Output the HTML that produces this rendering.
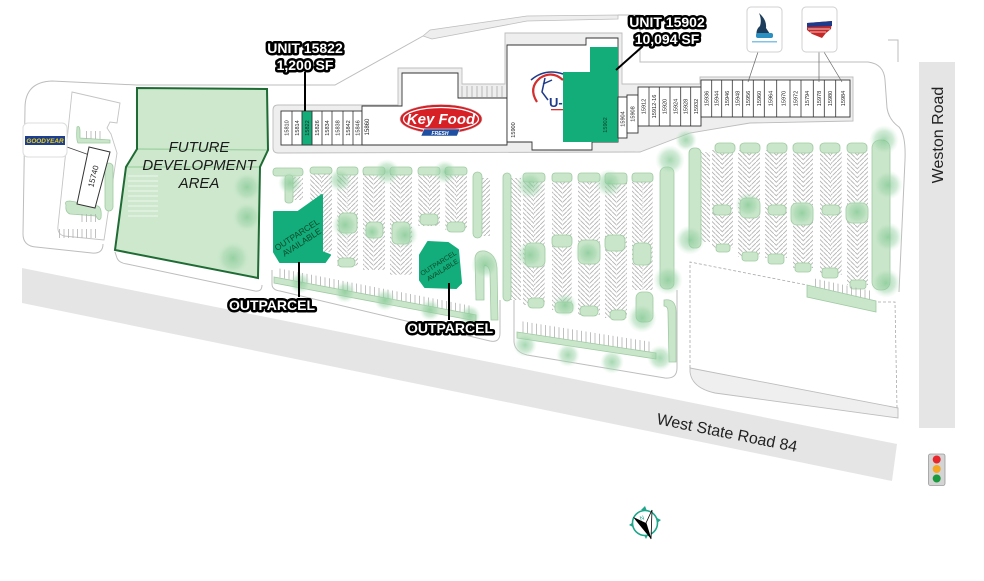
<!DOCTYPE html>
<html><head><meta charset="utf-8"><style>
html,body{margin:0;padding:0;background:#fff;}
svg{display:block;}
.u{font-size:5.6px;fill:#222;text-anchor:middle;}
.lbl{font-weight:bold;font-size:14px;fill:#fff;stroke:#000;stroke-width:5;stroke-linejoin:round;paint-order:stroke;text-anchor:middle;}
.isl{fill:#cae6ca;stroke:#9fcaa3;stroke-width:.8;}
.curb{fill:none;stroke:#bdbdbd;stroke-width:1;}
</style></head><body>
<svg width="984" height="581" viewBox="0 0 984 581" xmlns="http://www.w3.org/2000/svg" font-family="'Liberation Sans', Arial, sans-serif">
<defs>
<pattern id="pa" width="4.5" height="4.5" patternUnits="userSpaceOnUse"><path d="M0,0 L4.5,4.5" stroke="#b2b2b2" stroke-width="0.85"/></pattern>
<pattern id="pb" width="4.5" height="4.5" patternUnits="userSpaceOnUse"><path d="M4.5,0 L0,4.5" stroke="#b2b2b2" stroke-width="0.85"/></pattern>
<pattern id="tk" width="4.5" height="20" patternUnits="userSpaceOnUse"><line x1="1" y1="0" x2="1" y2="20" stroke="#b0b0b0" stroke-width="0.8"/></pattern>
<pattern id="hz" width="20" height="5" patternUnits="userSpaceOnUse"><line x1="0" y1="1" x2="20" y2="1" stroke="#eef7ee" stroke-width="1"/></pattern>
<radialGradient id="tr"><stop offset="0" stop-color="#7fc690" stop-opacity="0.7"/><stop offset="0.6" stop-color="#a2d6ad" stop-opacity="0.5"/><stop offset="1" stop-color="#cdebd3" stop-opacity="0"/></radialGradient>
</defs>

<!-- roads -->
<polygon points="22,268 897,444 892,481 22,303" fill="#e5e5e5"/>
<rect x="919" y="62" width="36" height="366" fill="#e5e5e5"/>
<text transform="translate(726,438) rotate(11.4)" text-anchor="middle" font-size="16" fill="#222">West State Road 84</text>
<text transform="translate(943,135) rotate(-90)" text-anchor="middle" font-size="16" fill="#222">Weston Road</text>

<!-- service drive lines -->
<path class="curb" d="M137,85 L335,85 L423,36"/>
<polygon points="423,36 430,30 527,16 618,15 618,19 527,21 432,39" fill="#eeeeee" stroke="#bdbdbd" stroke-width=".8"/>
<path class="curb" d="M618,15 L640,15 L640,62 L868,62 Q884,64 885,80 L887,108 Q889,120 899,127 Q906,135 905,160 L899,292"/>
<path class="curb" d="M888,40 L898,40 L898,62"/>

<!-- Goodyear lot -->
<path class="curb" d="M137,85 L52,81 Q25,82 25,108 L23,234 Q23,246 36,247 L92,253 Q103,254 103,244"/>
<path d="M72,92 L120,103 L117,123 L110,122 L107,128 L111,134 L117,153 L104,240 L64,236 Q57,234 58,226 L66,150 Z" fill="#fff" stroke="#c4c4c4" stroke-width=".9"/>
<rect x="58" y="229" width="38" height="9" fill="url(#tk)"/>
<path class="isl" d="M77,127 Q80,125 80,132 L80,138 L110,140 L110,143 L78,143 Q76,140 77,127 Z"/>
<rect x="84" y="131" width="18" height="8" fill="url(#tk)"/>
<rect class="isl" x="105" y="163" width="8" height="48" rx="4"/>
<path class="isl" d="M66,205 Q64,201 70,201 L98,206 Q102,208 101,218 Q99,222 96,216 L70,214 Q65,212 66,205 Z"/>
<rect x="80" y="214" width="18" height="8" fill="url(#tk)"/>
<line x1="67" y1="147" x2="95" y2="157" stroke="#444" stroke-width=".8"/>
<polygon points="89,147 110,152 95,208 77,204" fill="#fff" stroke="#333" stroke-width="1"/>
<text transform="translate(96,177) rotate(-76)" text-anchor="middle" font-size="8" fill="#222">15740</text>
<rect x="23" y="123" width="44" height="34" rx="5" fill="#fff" stroke="#dcdcdc"/>
<rect x="25" y="136" width="40" height="9" fill="#1c3f94"/>
<text x="45" y="143.2" text-anchor="middle" font-size="6.4" font-weight="bold" font-style="italic" fill="#f3cf00">GOODYEAR</text>

<!-- Future development -->
<polygon points="137,88 267,89 268,150 260,167 258,278 115,250 126,167 137,149" fill="#cde8cc"/>
<rect x="128" y="172" width="30" height="45" fill="url(#hz)"/>
<circle cx="247" cy="187" r="15" fill="url(#tr)"/>
<circle cx="247" cy="217" r="15" fill="url(#tr)"/>
<circle cx="233" cy="258" r="17" fill="url(#tr)"/>
<line x1="137" y1="149" x2="268" y2="150" stroke="#9dd0a1" stroke-width="1.2"/>
<line x1="126" y1="167" x2="260" y2="167" stroke="#9dd0a1" stroke-width="1.2"/>
<polygon points="137,88 267,89 268,150 260,167 258,278 115,250 126,167 137,149" fill="none" stroke="#1f6b34" stroke-width="2"/>
<g font-size="15" font-style="italic" fill="#1a1a1a" text-anchor="middle">
<text x="199" y="152">FUTURE</text>
<text x="199" y="170">DEVELOPMENT</text>
<text x="199" y="188">AREA</text>
</g>
<path class="curb" d="M115,252 L117,258 Q119,263 127,264 L255,291 Q262,292 262,285"/>

<!-- sidewalk around buildings -->
<path d="M273,110 Q273,105 278,105 L398,105 L398,68 L462,68 L462,84 L505,84 L505,33 L622,33 L622,84 L700,84 L700,77 L853,77 L853,121 L750,123 L690,133 L640,152 L278,153 Q273,153 273,148 Z" fill="#eeeeee" stroke="#bdbdbd" stroke-width=".9"/>

<!-- left unit strip -->
<rect x="281" y="111" width="81" height="34" fill="#fff" stroke="#333" stroke-width=".9"/>
<rect x="302" y="111" width="10" height="34" fill="#13ad7a" stroke="#333" stroke-width=".9"/>
<g stroke="#333" stroke-width=".8">
<line x1="292" y1="111" x2="292" y2="145"/><line x1="322" y1="111" x2="322" y2="145"/><line x1="332" y1="111" x2="332" y2="145"/><line x1="343" y1="111" x2="343" y2="145"/><line x1="353" y1="111" x2="353" y2="145"/>
</g>
<g class="u">
<text transform="translate(288.5,128) rotate(-90)">15810</text>
<text transform="translate(299,128) rotate(-90)">15814</text>
<text transform="translate(309,128) rotate(-90)">15822</text>
<text transform="translate(319,128) rotate(-90)">15826</text>
<text transform="translate(329,128) rotate(-90)">15834</text>
<text transform="translate(339.5,128) rotate(-90)">15838</text>
<text transform="translate(350,128) rotate(-90)">15842</text>
<text transform="translate(359.5,128) rotate(-90)">15846</text>
</g>

<!-- Key Food block -->
<polygon points="362,106 402,106 402,73 458,73 458,98 507,98 507,145 362,145" fill="#fff" stroke="#333" stroke-width=".9"/>
<g stroke="#aaa" stroke-width=".8">
<line x1="462" y1="86" x2="462" y2="97"/><line x1="467" y1="86" x2="467" y2="97"/><line x1="472" y1="86" x2="472" y2="97"/><line x1="477" y1="86" x2="477" y2="97"/><line x1="482" y1="86" x2="482" y2="97"/><line x1="487" y1="86" x2="487" y2="97"/><line x1="492" y1="86" x2="492" y2="97"/><line x1="497" y1="86" x2="497" y2="97"/><line x1="502" y1="86" x2="502" y2="97"/>
</g>
<text class="u" transform="translate(369,127) rotate(-90)" style="font-size:6px">15860</text>
<g transform="translate(441,119)">
<ellipse rx="41" ry="14.5" fill="#d71f26" stroke="#c8c8c8" stroke-width=".6"/>
<ellipse rx="37.5" ry="11.5" fill="none" stroke="#fff" stroke-width="1.3"/>
<text x="0" y="5" text-anchor="middle" font-size="15" font-weight="bold" font-style="italic" fill="#fff">Key Food</text>
<path d="M-17,10 L19,10 L16,17 L-20,17 Z" fill="#1f4fa0" stroke="#fff" stroke-width=".5"/>
<text x="-1" y="15.8" text-anchor="middle" font-size="5" font-weight="bold" font-style="italic" fill="#fff">FRESH</text>
</g>

<!-- Big building -->
<polygon points="507,45 586,45 586,38 618,38 618,142 592,142 592,150 532,150 532,142 507,142" fill="#fff" stroke="#333" stroke-width=".9"/>
<polygon points="590,47 618,47 618,142 563,142 563,72 590,72" fill="#13ad7a"/>
<text class="u" transform="translate(515,130) rotate(-90)">15900</text>
<text class="u" transform="translate(607,125) rotate(-90)" style="fill:#0b3d25">15902</text>
<!-- Aaron's logo -->
<path d="M531,80 Q545,68 563,74" fill="none" stroke="#1e3a8a" stroke-width="1.5"/>
<path d="M537,102 Q528,88 540,78 Q552,70 563,80" fill="none" stroke="#d32f2f" stroke-width="2.2"/>
<path d="M545,78 L542,92 L548,100 M543,84 L552,80" fill="none" stroke="#1e3a8a" stroke-width="1.5"/>
<text x="549" y="107" font-size="13" font-weight="bold" fill="#1e3a8a">U-</text>
<rect x="551" y="109" width="12" height="1.3" fill="#d32f2f"/>

<!-- right units -->
<rect x="618" y="97" width="9" height="41" fill="#fff" stroke="#333" stroke-width=".9"/>
<rect x="627" y="95" width="11" height="38" fill="#fff" stroke="#333" stroke-width=".9"/>
<rect x="638" y="87" width="63" height="39" fill="#fff" stroke="#333" stroke-width=".9"/>
<g stroke="#333" stroke-width=".8">
<line x1="649" y1="87" x2="649" y2="126"/><line x1="659.3" y1="87" x2="659.3" y2="126"/><line x1="670" y1="87" x2="670" y2="126"/><line x1="680.7" y1="87" x2="680.7" y2="126"/><line x1="690.7" y1="87" x2="690.7" y2="126"/>
</g>
<rect x="701" y="80" width="149" height="37" fill="#fff" stroke="#333" stroke-width=".9"/>
<g stroke="#333" stroke-width=".8">
<line x1="711.7" y1="80" x2="711.7" y2="117"/><line x1="721.7" y1="80" x2="721.7" y2="117"/><line x1="732.3" y1="80" x2="732.3" y2="117"/><line x1="742.7" y1="80" x2="742.7" y2="117"/><line x1="753.3" y1="80" x2="753.3" y2="117"/><line x1="764.3" y1="80" x2="764.3" y2="117"/><line x1="776.7" y1="80" x2="776.7" y2="117"/><line x1="790" y1="80" x2="790" y2="117"/><line x1="801" y1="80" x2="801" y2="117"/><line x1="813.3" y1="80" x2="813.3" y2="117"/><line x1="824.3" y1="80" x2="824.3" y2="117"/><line x1="835.7" y1="80" x2="835.7" y2="117"/>
</g>
<g class="u">
<text transform="translate(624.5,119) rotate(-90)">15904</text>
<text transform="translate(634.5,114) rotate(-90)">15908</text>
<text transform="translate(645.3,106.5) rotate(-90)">15912</text>
<text transform="translate(656.2,106.5) rotate(-90)">15912-16</text>
<text transform="translate(666.7,106.5) rotate(-90)">15920</text>
<text transform="translate(677.3,106.5) rotate(-90)">15924</text>
<text transform="translate(687.7,106.5) rotate(-90)">15928</text>
<text transform="translate(697.9,106.5) rotate(-90)">15932</text>
<text transform="translate(708.3,98.5) rotate(-90)">15936</text>
<text transform="translate(718.7,98.5) rotate(-90)">15944</text>
<text transform="translate(729,98.5) rotate(-90)">15946</text>
<text transform="translate(739.5,98.5) rotate(-90)">15948</text>
<text transform="translate(750,98.5) rotate(-90)">15956</text>
<text transform="translate(760.8,98.5) rotate(-90)">15960</text>
<text transform="translate(772.5,98.5) rotate(-90)">15964</text>
<text transform="translate(785.3,98.5) rotate(-90)">15970</text>
<text transform="translate(797.5,98.5) rotate(-90)">15972</text>
<text transform="translate(809.2,98.5) rotate(-90)">15794</text>
<text transform="translate(820.8,98.5) rotate(-90)">15978</text>
<text transform="translate(832,98.5) rotate(-90)">15980</text>
<text transform="translate(844.9,98.5) rotate(-90)">15984</text>
</g>

<!-- top right logos -->
<g stroke="#666" stroke-width=".7">
<line x1="758" y1="52" x2="748" y2="82"/><line x1="819" y1="52" x2="819" y2="82"/><line x1="824" y1="52" x2="842" y2="82"/>
</g>
<rect x="747" y="7" width="35" height="45" rx="4" fill="#fff" stroke="#d0d0d0"/>
<path d="M759,13 Q767,20 766,28 L772,37 L757,37 Q755,30 760,26 Q762,20 759,13 Z" fill="#1d3d5c"/>
<rect x="756" y="33" width="17" height="5" rx="2" fill="#2b8fc0"/>
<rect x="752" y="41" width="25" height="1.5" fill="#7fc3e6"/>
<rect x="802" y="7" width="35" height="45" rx="4" fill="#fff" stroke="#d0d0d0"/>
<path d="M807,23 L832,21 L831,29 L826,33 L822,38 L812,34 L807,30 Z" fill="#c62828"/>
<path d="M807,23 L832,21 L832,26 L807,27 Z" fill="#1e3a8a"/>
<g stroke="#fff" stroke-width=".7"><line x1="808" y1="29" x2="830" y2="29"/><line x1="810" y1="32" x2="826" y2="32"/></g>

<!-- middle lot curbs -->
<path class="curb" d="M272,270 L272,284 Q272,290 280,291 L490,341 Q500,343 500,333 L500,300"/>
<!-- lot 3 curb -->
<path class="curb" d="M514,300 L514,342 Q515,352 527,355 L665,378 Q677,379 677,368 L677,290"/>
<!-- lot 4 -->
<path d="M690,368 L898,408 L898,418 L715,393 Q692,388 690,372 Z" fill="#efefef" stroke="#bdbdbd" stroke-width=".9"/>
<g stroke="#a9a9a9" stroke-width=".8" stroke-dasharray="3,2" fill="none">
<path d="M690,368 L690,262 L807,285"/><path d="M878,302 L895,302 L897,408"/>
</g>

<!-- hatch columns -->
<g>
<rect x="293" y="177" width="10" height="23" fill="url(#pb)"/>
<rect x="310" y="172" width="11" height="80" fill="url(#pa)"/><rect x="321" y="172" width="11" height="80" fill="url(#pb)"/>
<rect x="337" y="172" width="10.5" height="94" fill="url(#pa)"/><rect x="347.5" y="172" width="10.5" height="94" fill="url(#pb)"/>
<rect x="363" y="172" width="11" height="98" fill="url(#pa)"/><rect x="374" y="172" width="11" height="98" fill="url(#pb)"/>
<rect x="390" y="172" width="11" height="103" fill="url(#pa)"/><rect x="401" y="172" width="11" height="103" fill="url(#pb)"/>
<rect x="418" y="172" width="11" height="54" fill="url(#pa)"/><rect x="429" y="172" width="11" height="54" fill="url(#pb)"/>
<rect x="445" y="172" width="11" height="58" fill="url(#pa)"/><rect x="456" y="172" width="11" height="58" fill="url(#pb)"/>
<rect x="480" y="178" width="10" height="58" fill="url(#pb)"/>
<rect x="510" y="178" width="11" height="122" fill="url(#pa)"/>
<rect x="523" y="180" width="11" height="125" fill="url(#pa)"/><rect x="534" y="180" width="11" height="125" fill="url(#pb)"/>
<rect x="552" y="180" width="10" height="130" fill="url(#pa)"/><rect x="562" y="180" width="10" height="130" fill="url(#pb)"/>
<rect x="578" y="180" width="11" height="135" fill="url(#pa)"/><rect x="589" y="180" width="11" height="135" fill="url(#pb)"/>
<rect x="605" y="180" width="11" height="138" fill="url(#pa)"/><rect x="616" y="180" width="11" height="138" fill="url(#pb)"/>
<rect x="632" y="180" width="10.5" height="110" fill="url(#pa)"/><rect x="642.5" y="180" width="10.5" height="110" fill="url(#pb)"/>
<rect x="697" y="152" width="13" height="90" fill="url(#pa)"/>
<rect x="712" y="150" width="10.5" height="98" fill="url(#pa)"/><rect x="722.5" y="150" width="10.5" height="98" fill="url(#pb)"/>
<rect x="738" y="150" width="11" height="107" fill="url(#pa)"/><rect x="749" y="150" width="11" height="107" fill="url(#pb)"/>
<rect x="765" y="150" width="11" height="108" fill="url(#pa)"/><rect x="776" y="150" width="11" height="108" fill="url(#pb)"/>
<rect x="793" y="150" width="10" height="118" fill="url(#pa)"/><rect x="803" y="150" width="10" height="118" fill="url(#pb)"/>
<rect x="820" y="150" width="11" height="125" fill="url(#pa)"/><rect x="831" y="150" width="11" height="125" fill="url(#pb)"/>
<rect x="847" y="150" width="10.5" height="135" fill="url(#pa)"/><rect x="857.5" y="150" width="10.5" height="135" fill="url(#pb)"/>
</g>

<!-- green islands -->
<g>
<rect class="isl" x="273" y="168" width="30" height="8" rx="3"/>
<rect class="isl" x="285" y="175" width="8" height="28" rx="3"/>
<rect class="isl" x="310" y="167" width="22" height="7" rx="3"/>
<rect class="isl" x="337" y="167" width="21" height="8" rx="3"/>
<rect class="isl" x="339" y="213" width="18" height="20" rx="5"/>
<rect class="isl" x="338" y="258" width="17" height="9" rx="4"/>
<rect class="isl" x="363" y="167" width="22" height="8" rx="3"/>
<rect class="isl" x="366" y="222" width="17" height="16" rx="5"/>
<rect class="isl" x="390" y="167" width="22" height="8" rx="3"/>
<rect class="isl" x="392" y="222" width="18" height="22" rx="5"/>
<rect class="isl" x="418" y="167" width="22" height="8" rx="3"/>
<rect class="isl" x="420" y="214" width="18" height="11" rx="4"/>
<rect class="isl" x="445" y="167" width="22" height="8" rx="3"/>
<rect class="isl" x="447" y="222" width="18" height="10" rx="4"/>
<rect class="isl" x="473" y="172" width="9" height="66" rx="4.5"/>
<path class="isl" d="M475,258 Q476,250 485,251 Q496,254 497,268 L498,320 L491,320 L490,272 Q488,264 484,266 L484,300 L476,300 Z"/>
<rect class="isl" x="503" y="173" width="8" height="128" rx="4"/>
<rect class="isl" x="523" y="173" width="22" height="9" rx="3"/>
<rect class="isl" x="552" y="173" width="20" height="9" rx="3"/>
<rect class="isl" x="578" y="173" width="22" height="9" rx="3"/>
<rect class="isl" x="605" y="173" width="22" height="11" rx="3"/>
<rect class="isl" x="632" y="173" width="21" height="9" rx="3"/>
<rect class="isl" x="525" y="243" width="20" height="24" rx="6"/>
<rect class="isl" x="552" y="235" width="20" height="12" rx="4"/>
<rect class="isl" x="578" y="240" width="22" height="24" rx="6"/>
<rect class="isl" x="605" y="235" width="20" height="16" rx="5"/>
<rect class="isl" x="633" y="243" width="18" height="22" rx="5"/>
<rect class="isl" x="528" y="298" width="16" height="10" rx="4"/>
<rect class="isl" x="555" y="302" width="18" height="11" rx="4"/>
<rect class="isl" x="580" y="306" width="18" height="10" rx="4"/>
<rect class="isl" x="610" y="310" width="16" height="10" rx="4"/>
<rect class="isl" x="636" y="292" width="17" height="30" rx="6"/>
<rect class="isl" x="660" y="167" width="14" height="122" rx="6"/>
<path class="isl" d="M664,300 Q676,298 676,312 L676,362 L669,362 L668,312 Q668,306 664,306 Z"/>
<rect class="isl" x="689" y="148" width="12" height="100" rx="5"/>
<rect class="isl" x="715" y="143" width="20" height="10" rx="4"/>
<rect class="isl" x="740" y="143" width="20" height="10" rx="4"/>
<rect class="isl" x="767" y="143" width="20" height="10" rx="4"/>
<rect class="isl" x="793" y="143" width="20" height="10" rx="4"/>
<rect class="isl" x="820" y="143" width="20" height="10" rx="4"/>
<rect class="isl" x="847" y="143" width="20" height="10" rx="4"/>
<rect class="isl" x="713" y="205" width="18" height="10" rx="4"/>
<rect class="isl" x="740" y="198" width="20" height="20" rx="6"/>
<rect class="isl" x="768" y="205" width="18" height="10" rx="4"/>
<rect class="isl" x="791" y="203" width="22" height="22" rx="6"/>
<rect class="isl" x="822" y="205" width="18" height="10" rx="4"/>
<rect class="isl" x="846" y="203" width="22" height="20" rx="6"/>
<rect class="isl" x="716" y="244" width="14" height="8" rx="3"/>
<rect class="isl" x="742" y="252" width="16" height="9" rx="3"/>
<rect class="isl" x="768" y="254" width="16" height="10" rx="3"/>
<rect class="isl" x="795" y="263" width="16" height="9" rx="3"/>
<rect class="isl" x="822" y="268" width="16" height="10" rx="3"/>
<rect class="isl" x="850" y="280" width="16" height="9" rx="3"/>
<rect class="isl" x="872" y="140" width="18" height="150" rx="8"/>
</g>

<!-- bottom strips with stall ticks -->
<polygon points="277,268 472,306 472,315 277,277" fill="url(#tk)"/>
<polygon class="isl" points="274,277 476,315 476,321 274,283"/>
<polygon points="520,321 652,342 652,353 520,332" fill="url(#tk)"/>
<polygon class="isl" points="517,332 656,353 656,359 517,338"/>
<polygon points="812,278 872,291 872,302 812,290" fill="url(#tk)"/>
<polygon class="isl" points="807,285 876,301 876,312 807,297"/>

<!-- trees -->
<g fill="url(#tr)">
<circle cx="290" cy="183" r="12"/><circle cx="340" cy="180" r="12"/><circle cx="387" cy="172" r="13"/><circle cx="445" cy="172" r="12"/>
<circle cx="345" cy="225" r="13"/><circle cx="405" cy="235" r="13"/><circle cx="372" cy="232" r="9"/>
<circle cx="300" cy="283" r="11"/><circle cx="345" cy="292" r="11"/><circle cx="385" cy="300" r="11"/><circle cx="430" cy="310" r="11"/><circle cx="470" cy="316" r="11"/>
<circle cx="485" cy="265" r="14"/>
<circle cx="530" cy="185" r="14"/><circle cx="609" cy="183" r="14"/><circle cx="670" cy="160" r="15"/>
<circle cx="530" cy="255" r="14"/><circle cx="588" cy="253" r="13"/><circle cx="668" cy="280" r="15"/><circle cx="642" cy="318" r="15"/><circle cx="565" cy="305" r="12"/>
<circle cx="525" cy="345" r="12"/><circle cx="568" cy="355" r="12"/><circle cx="612" cy="362" r="12"/><circle cx="660" cy="358" r="13"/>
<circle cx="690" cy="240" r="15"/><circle cx="686" cy="140" r="11"/><circle cx="748" cy="205" r="13"/><circle cx="802" cy="213" r="13"/><circle cx="857" cy="212" r="13"/>
<circle cx="884" cy="140" r="15"/><circle cx="888" cy="185" r="15"/><circle cx="888" cy="237" r="15"/><circle cx="886" cy="283" r="15"/>
</g>

<!-- outparcels -->
<polygon points="274,212 298,212 322,195 322,252 330,255 325,262 280,262 274,252" fill="#12ad7a" stroke="#12ad7a" stroke-width="2" stroke-linejoin="round"/>
<g transform="translate(299,238) rotate(-33)" font-size="8.5" fill="#0b4a2b" text-anchor="middle">
<text x="0" y="-1">OUTPARCEL</text><text x="0" y="8">AVAILABLE</text>
</g>
<polygon points="428,242 448,243 458,250 461,283 456,288 425,287 420,280 420,255" fill="#12ad7a" stroke="#12ad7a" stroke-width="2" stroke-linejoin="round"/>
<g transform="translate(440,266) rotate(-32)" font-size="6.8" fill="#0b4a2b" text-anchor="middle">
<text x="0" y="-1">OUTPARCEL</text><text x="0" y="7">AVAILABLE</text>
</g>

<!-- leaders -->
<g stroke="#000" stroke-width="2">
<line x1="305" y1="72" x2="305" y2="111"/>
<line x1="643" y1="46" x2="616" y2="70"/>
<line x1="299" y1="262" x2="299" y2="297"/>
<line x1="449" y1="283" x2="449" y2="320"/>
</g>

<!-- labels -->
<text class="lbl" x="305" y="53">UNIT 15822</text>
<text class="lbl" x="305" y="70">1,200 SF</text>
<text class="lbl" x="667" y="27">UNIT 15902</text>
<text class="lbl" x="667" y="44">10,094 SF</text>
<text class="lbl" x="272" y="310">OUTPARCEL</text>
<text class="lbl" x="450" y="333">OUTPARCEL</text>

<!-- traffic light -->
<rect x="928.5" y="454" width="16.5" height="31.5" rx="2" fill="#d4d4d4" stroke="#9a9a9a" stroke-width=".8"/>
<circle cx="936.7" cy="459.5" r="4" fill="#e8262b"/>
<circle cx="936.7" cy="469" r="4" fill="#f5a623"/>
<circle cx="936.7" cy="478.5" r="4" fill="#1a9a3c"/>

<!-- compass -->
<g transform="translate(645,523)">
<circle r="12.5" fill="none" stroke="#1ea58a" stroke-width="1.6"/>
<g fill="#1ea58a">
<polygon points="-4,-13 0,-17 2,-12"/><polygon points="12,-5 16,-3 12,0"/><polygon points="-12,4 -16,2 -13,0"/><polygon points="3,12 1,16 -1,12"/>
</g>
<polygon points="-12,-6 6,16 1,0" fill="#000"/>
<polygon points="7,-13 6,16 1,0" fill="#fff" stroke="#000" stroke-width=".8"/>
<text x="-3" y="-3" font-size="6" fill="#1ea58a" text-anchor="middle" transform="rotate(-20 -3 -5)">N</text>
</g>
</svg>
</body></html>
